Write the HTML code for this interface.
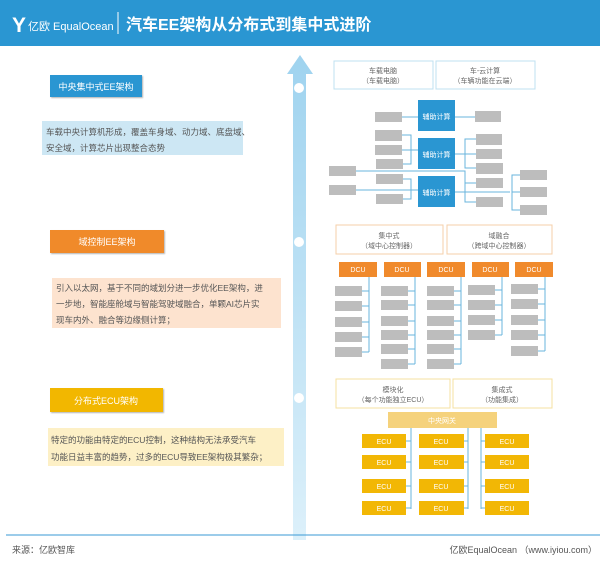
<!DOCTYPE html><html><head><meta charset="utf-8"><style>
body{margin:0;width:600px;height:575px;overflow:hidden;background:#fff;font-family:"Liberation Sans","Noto Sans CJK SC",sans-serif}
</style></head><body>
<svg width="600" height="575" xmlns="http://www.w3.org/2000/svg" font-family="Liberation Sans, Noto Sans CJK SC, sans-serif">
<defs><linearGradient id="ar" x1="0" y1="0" x2="0" y2="1"><stop offset="0" stop-color="#9fd3ef"/><stop offset="1" stop-color="#dcf0fa"/></linearGradient>
<filter id="sh"><feDropShadow dx="1" dy="1" stdDeviation="0.8" flood-opacity="0.3"/></filter></defs>
<rect x="0" y="0" width="600" height="46" fill="#2a96d2"/>
<text x="12" y="32" font-size="21" fill="#fff" font-weight="bold">Y</text>
<text x="28" y="30" font-size="11" fill="#fff">亿欧 EqualOcean</text>
<line x1="118" y1="12" x2="118" y2="34" stroke="#fff" stroke-width="1"/>
<text x="126" y="30" font-size="16" font-weight="bold" fill="#fff">汽车EE架构从分布式到集中式进阶</text>
<!-- arrow -->
<polygon points="300,55 313,74 306,74 306,540 293,540 293,74 287,74" fill="url(#ar)"/>
<circle cx="299" cy="88" r="5" fill="#fff"/><circle cx="299" cy="242" r="5" fill="#fff"/><circle cx="299" cy="398" r="5" fill="#fff"/>
<!-- left -->
<rect x="50" y="75" width="92" height="22" fill="#2a96d2" filter="url(#sh)"/>
<text x="96" y="90" font-size="9" fill="#fff" text-anchor="middle">中央集中式EE架构</text>
<rect x="42" y="121" width="201" height="34" fill="#cde7f4"/>
<text x="46" y="135" font-size="8.5" fill="#555">车载中央计算机形成，覆盖车身域、动力域、底盘域、</text>
<text x="46" y="151" font-size="8.5" fill="#555">安全域，计算芯片出现整合态势</text>
<rect x="50" y="230" width="114" height="23" fill="#f08a2c" filter="url(#sh)"/>
<text x="107" y="245" font-size="9" fill="#fff" text-anchor="middle">域控制EE架构</text>
<rect x="52" y="278" width="229" height="50" fill="#fde3cf"/>
<text x="56" y="291" font-size="8.5" fill="#555">引入以太网，基于不同的域划分进一步优化EE架构，进</text>
<text x="56" y="307" font-size="8.5" fill="#555">一步地，智能座舱域与智能驾驶域融合，单颗AI芯片实</text>
<text x="56" y="323" font-size="8.5" fill="#555">现车内外、融合等边缘侧计算；</text>
<rect x="50" y="388" width="113" height="24" fill="#f2b705" filter="url(#sh)"/>
<text x="106" y="404" font-size="9" fill="#fff" text-anchor="middle">分布式ECU架构</text>
<rect x="48" y="428" width="236" height="38" fill="#fdf0c6"/>
<text x="51" y="443" font-size="8.5" fill="#555">特定的功能由特定的ECU控制，这种结构无法承受汽车</text>
<text x="51" y="460" font-size="8.5" fill="#555">功能日益丰富的趋势，过多的ECU导致EE架构极其繁杂；</text>
<!-- top right -->
<g font-size="7" fill="#666" text-anchor="middle">
<rect x="334" y="61" width="99" height="28" fill="#fff" stroke="#bfe0f0"/>
<rect x="436" y="61" width="99" height="28" fill="#fff" stroke="#bfe0f0"/>
<text x="383" y="73">车载电脑</text><text x="383" y="83">（车载电脑）</text>
<text x="485" y="73">车-云计算</text><text x="485" y="83">（车辆功能在云端）</text>
</g>
<g stroke="#6ab4dc" stroke-width="1" fill="none">
<line x1="402" y1="117" x2="418" y2="117"/><line x1="455" y1="117" x2="475" y2="117"/>
<polyline points="402,135 411,135 411,164 403,164"/><line x1="402" y1="150" x2="418" y2="150"/>
<polyline points="476,139 465,139 465,168 476,168"/><line x1="455" y1="154" x2="476" y2="154"/>
<polyline points="356,171 465,171 465,202 476,202"/><line x1="465" y1="183" x2="476" y2="183"/>
<line x1="356" y1="190" x2="418" y2="190"/>
<polyline points="403,179 411,179 411,199 403,199"/>
<line x1="455" y1="192" x2="510" y2="192"/>
<polyline points="520,175 512,175 512,210 520,210"/><line x1="512" y1="192" x2="520" y2="192"/>
</g>
<g fill="#2a96d2"><rect x="418" y="100" width="37" height="31"/><rect x="418" y="138" width="37" height="31"/><rect x="418" y="176" width="37" height="31"/></g>
<g font-size="7" fill="#fff" text-anchor="middle"><text x="436.5" y="119">辅助计算</text><text x="436.5" y="157">辅助计算</text><text x="436.5" y="195">辅助计算</text></g>
<g fill="#bdbdbd">
<rect x="375" y="112" width="27" height="10"/><rect x="475" y="111" width="26" height="11"/>
<rect x="375" y="130" width="27" height="11"/><rect x="375" y="145" width="27" height="10"/><rect x="376" y="159" width="27" height="10"/>
<rect x="476" y="134" width="26" height="11"/><rect x="476" y="149" width="26" height="10"/><rect x="476" y="163" width="27" height="11"/><rect x="476" y="178" width="27" height="10"/><rect x="476" y="197" width="27" height="10"/>
<rect x="329" y="166" width="27" height="10"/><rect x="329" y="185" width="27" height="10"/>
<rect x="376" y="174" width="27" height="10"/><rect x="376" y="194" width="27" height="10"/>
<rect x="520" y="170" width="27" height="10"/><rect x="520" y="187" width="27" height="10"/><rect x="520" y="205" width="27" height="10"/>
</g>
<!-- middle -->
<g font-size="7" fill="#666" text-anchor="middle">
<rect x="336" y="225" width="107" height="29" fill="#fff" stroke="#f6cfa8"/>
<rect x="447" y="225" width="105" height="29" fill="#fff" stroke="#f6cfa8"/>
<text x="389" y="238">集中式</text><text x="389" y="248">（域中心控制器）</text>
<text x="499" y="238">域融合</text><text x="499" y="248">（跨域中心控制器）</text>
</g>
<g fill="#f08a2c"><rect x="339" y="262" width="38" height="15"/><rect x="384" y="262" width="37" height="15"/><rect x="427" y="262" width="38" height="15"/><rect x="472" y="262" width="37" height="15"/><rect x="515" y="262" width="38" height="15"/></g>
<g font-size="7" fill="#fff" text-anchor="middle"><text x="358" y="272">DCU</text><text x="402" y="272">DCU</text><text x="446" y="272">DCU</text><text x="490" y="272">DCU</text><text x="534" y="272">DCU</text></g>
<g stroke="#6ab4dc" fill="none">
<polyline points="369,277 369,352"/><path d="M362,291h7M362,306h7M362,322h7M362,337h7M362,352h7"/>
<polyline points="415,277 415,364"/><path d="M408,291h7M408,305h7M408,321h7M408,335h7M408,349h7M408,364h7"/>
<polyline points="461,277 461,364"/><path d="M454,291h7M454,305h7M454,321h7M454,335h7M454,349h7M454,364h7"/>
<polyline points="502,277 502,335"/><path d="M495,290h7M495,305h7M495,320h7M495,335h7"/>
<polyline points="545,277 545,351"/><path d="M538,289h7M538,304h7M538,320h7M538,335h7M538,351h7"/>
</g>
<g fill="#bdbdbd">
<rect x="335" y="286" width="27" height="10"/><rect x="335" y="301" width="27" height="10"/><rect x="335" y="317" width="27" height="10"/><rect x="335" y="332" width="27" height="10"/><rect x="335" y="347" width="27" height="10"/>
<rect x="381" y="286" width="27" height="10"/><rect x="381" y="300" width="27" height="10"/><rect x="381" y="316" width="27" height="10"/><rect x="381" y="330" width="27" height="10"/><rect x="381" y="344" width="27" height="10"/><rect x="381" y="359" width="27" height="10"/>
<rect x="427" y="286" width="27" height="10"/><rect x="427" y="300" width="27" height="10"/><rect x="427" y="316" width="27" height="10"/><rect x="427" y="330" width="27" height="10"/><rect x="427" y="344" width="27" height="10"/><rect x="427" y="359" width="27" height="10"/>
<rect x="468" y="285" width="27" height="10"/><rect x="468" y="300" width="27" height="10"/><rect x="468" y="315" width="27" height="10"/><rect x="468" y="330" width="27" height="10"/>
<rect x="511" y="284" width="27" height="10"/><rect x="511" y="299" width="27" height="10"/><rect x="511" y="315" width="27" height="10"/><rect x="511" y="330" width="27" height="10"/><rect x="511" y="346" width="27" height="10"/>
</g>
<!-- bottom -->
<g font-size="7" fill="#666" text-anchor="middle">
<rect x="336" y="379" width="114" height="29" fill="#fff" stroke="#f6e0a0"/>
<rect x="453" y="379" width="99" height="29" fill="#fff" stroke="#f6e0a0"/>
<text x="393" y="392">模块化</text><text x="393" y="402">（每个功能独立ECU）</text>
<text x="502" y="392">集成式</text><text x="502" y="402">（功能集成）</text>
</g>
<rect x="388" y="412" width="109" height="16" fill="#f5d27c"/>
<text x="442" y="423" font-size="7" fill="#fff" text-anchor="middle">中央网关</text>
<g stroke="#6ab4dc" fill="none">
<path d="M411,428V509M468,428V509M481,428V509"/>
<path d="M406,441h5M406,462h5M406,486h5M406,508h5M464,441h4M464,462h4M464,486h4M464,508h4M481,441h4M481,462h4M481,486h4M481,508h4"/>
</g>
<g fill="#f2b705">
<rect x="362" y="434" width="44" height="14"/><rect x="362" y="455" width="44" height="14"/><rect x="362" y="479" width="44" height="14"/><rect x="362" y="501" width="44" height="14"/>
<rect x="419" y="434" width="45" height="14"/><rect x="419" y="455" width="45" height="14"/><rect x="419" y="479" width="45" height="14"/><rect x="419" y="501" width="45" height="14"/>
<rect x="485" y="434" width="44" height="14"/><rect x="485" y="455" width="44" height="14"/><rect x="485" y="479" width="44" height="14"/><rect x="485" y="501" width="44" height="14"/>
</g>
<g font-size="7" fill="#fff" text-anchor="middle">
<text x="384" y="444">ECU</text><text x="384" y="465">ECU</text><text x="384" y="489">ECU</text><text x="384" y="511">ECU</text>
<text x="441" y="444">ECU</text><text x="441" y="465">ECU</text><text x="441" y="489">ECU</text><text x="441" y="511">ECU</text>
<text x="507" y="444">ECU</text><text x="507" y="465">ECU</text><text x="507" y="489">ECU</text><text x="507" y="511">ECU</text>
</g>
<line x1="6" y1="535" x2="600" y2="535" stroke="#3a9ad6" stroke-width="1"/>
<text x="12" y="553" font-size="9" fill="#555">来源：亿欧智库</text>
<text x="597" y="553" font-size="9" fill="#555" text-anchor="end">亿欧EqualOcean （www.iyiou.com）</text>
</svg>
</body></html>
